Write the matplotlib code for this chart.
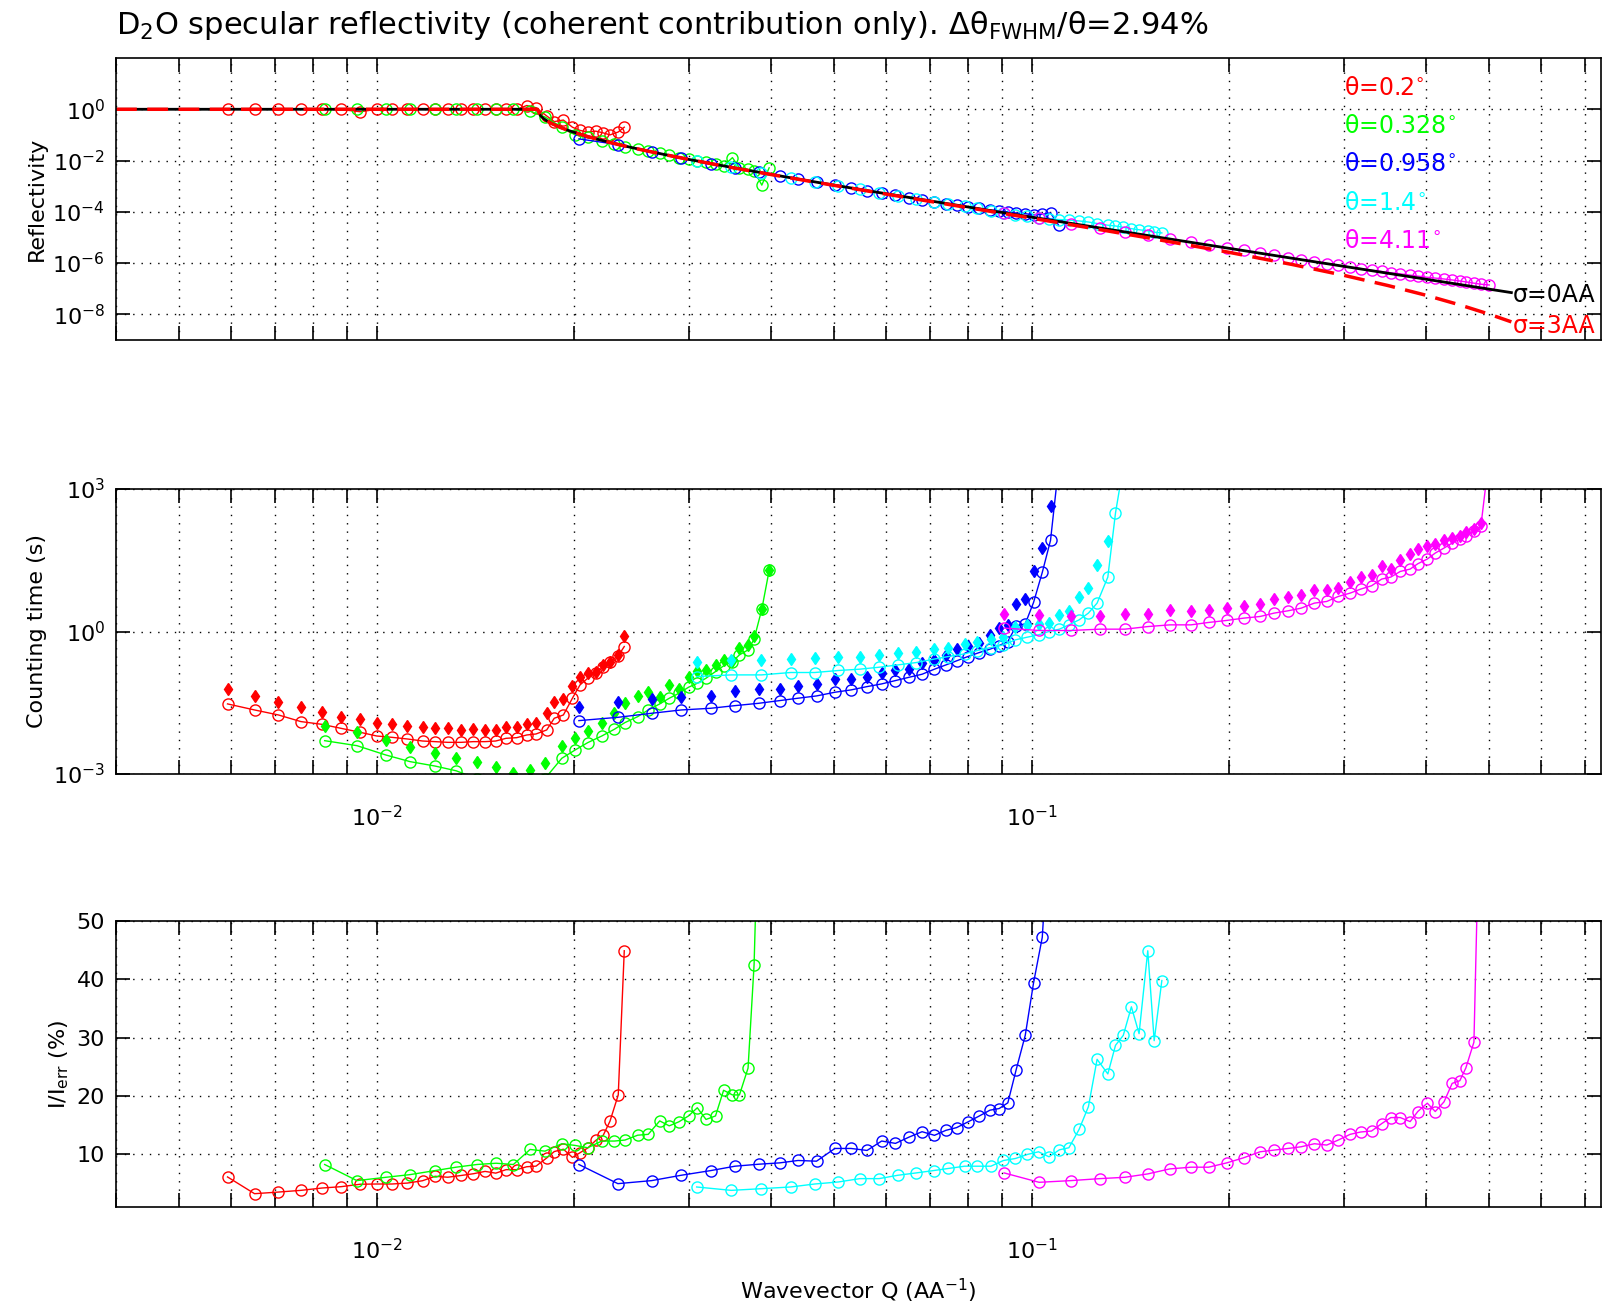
import matplotlib
matplotlib.use("Agg")
import matplotlib.pyplot as plt
from matplotlib.ticker import FixedLocator, NullLocator, NullFormatter, LogLocator

# ---- theory curves (sigma = 0 AA and sigma = 3 AA)
q_th = [0.004, 0.01, 0.0175, 0.0176, 0.0178, 0.018, 0.0182, 0.0185, 0.019, 0.0195,
        0.02, 0.021, 0.022, 0.023, 0.024, 0.025, 0.027, 0.03, 0.033, 0.036, 0.04,
        0.045, 0.05, 0.06, 0.07, 0.08, 0.09, 0.1, 0.12, 0.15, 0.2, 0.25, 0.3, 0.35,
        0.4, 0.45, 0.5, 0.54]
r0_th = [1.0, 1.0, 1.0, 1.0, 0.547, 0.427, 0.353, 0.28, 0.205, 0.158, 0.127, 0.0865,
         0.0625, 0.047, 0.0363, 0.0287, 0.0189, 0.011, 0.00697, 0.00465, 0.00289,
         0.00172, 0.00109, 5.06e-4, 2.67e-4, 1.54e-4, 9.5e-5, 6.19e-5, 2.96e-5, 1.2e-5,
         3.78e-6, 1.54e-6, 7.44e-7, 4.01e-7, 2.35e-7, 1.46e-7, 9.6e-8, 7.06e-8]
r3_th = [1.0, 1.0, 1.0, 1.0, 0.546, 0.426, 0.352, 0.279, 0.204, 0.158, 0.126, 0.0862,
         0.0622, 0.0468, 0.0361, 0.0286, 0.0188, 0.011, 0.0069, 0.0046, 0.00285,
         0.00169, 0.00107, 4.9e-4, 2.55e-4, 1.45e-4, 8.84e-5, 5.66e-5, 2.6e-5, 9.8e-6,
         2.64e-6, 8.8e-7, 3.31e-7, 1.33e-7, 5.57e-8, 2.36e-8, 1.01e-8, 5.1e-9]

# ---- theta = 0.2 deg (red)
q_red = [0.00592, 0.00651, 0.00708, 0.00766, 0.00825, 0.00882, 0.00944, 0.01000, 0.01055,
         0.01114, 0.01175, 0.01228, 0.01284, 0.01346, 0.01405, 0.01464, 0.01520, 0.01576,
         0.01636, 0.01695, 0.01751, 0.01818, 0.01867, 0.01928, 0.01990, 0.02044, 0.02100,
         0.02160, 0.02218, 0.02271, 0.02338, 0.02388]
r_red = [1.0, 1.0, 1.0, 1.0, 1.0, 0.98, 0.8, 1.0, 1.0, 1.0, 1.0, 1.0, 1.0, 1.0, 1.0, 1.0,
         1.0, 1.0, 1.0, 1.4, 1.15, 0.55, 0.33, 0.38, 0.2, 0.15, 0.13, 0.14, 0.12, 0.1,
         0.13, 0.2]
t_red = [0.0299, 0.0223, 0.0175, 0.0127, 0.0111, 0.00916, 0.00755, 0.00631, 0.00592,
         0.00546, 0.00495, 0.0048, 0.00464, 0.00464, 0.0048, 0.0048, 0.00495, 0.00564,
         0.00582, 0.00663, 0.00696, 0.00846, 0.0149, 0.0175, 0.0394, 0.0751, 0.1038,
         0.1367, 0.177, 0.233, 0.307, 0.483]
td_red = [0.0608, 0.0448, 0.0334, 0.0254, 0.0206, 0.0161, 0.0142, 0.0121, 0.0111, 0.01026,
          0.00961, 0.00916, 0.00916, 0.00846, 0.00887, 0.00846, 0.00846, 0.00961, 0.00961,
          0.0111, 0.0121, 0.019, 0.0334, 0.0374, 0.0716, 0.1125, 0.1367, 0.1435, 0.198,
          0.233, 0.322, 0.785]
e_red = [6.15, 3.28, 3.56, 3.85, 4.25, 4.48, 4.9, 4.94, 4.94, 5.1, 5.5, 6.26, 6.1, 6.4,
         6.7, 7.1, 6.8, 7.4, 7.4, 7.9, 8.0, 9.4, 10.5, 10.9, 9.5, 10.3, 11.1, 12.4, 13.3,
         15.7, 20.2, 44.9]

# ---- theta = 0.328 deg (green)
q_green = [0.00833, 0.00933, 0.01033, 0.01125, 0.01228, 0.01322, 0.01422, 0.01522, 0.01617,
           0.01715, 0.01807, 0.01917, 0.02009, 0.02100, 0.02206, 0.02306, 0.02394, 0.02503,
           0.02598, 0.02705, 0.02797, 0.02894, 0.02993, 0.03087, 0.03183, 0.03291, 0.03386,
           0.03493, 0.03580, 0.03690, 0.03769, 0.03873, 0.03974]
r_green = [1.0, 1.0, 1.0, 1.0, 1.0, 1.0, 1.0, 1.0, 1.0, 0.85, 0.5, 0.2, 0.1, 0.08, 0.06,
           0.046, 0.035, 0.029, 0.024, 0.019, 0.016, 0.013, 0.011, 0.0098, 0.0085, 0.0072,
           0.0062, 0.013, 0.0052, 0.0045, 0.004, 0.0011, 0.0052]
t_green = [0.00503, 0.00395, 0.00251, 0.00182, 0.00147, 0.00117, 0.0008, 0.0006, 0.0005,
           0.0005, 0.0008, 0.00214, 0.0032, 0.00457, 0.0063, 0.00873, 0.0121, 0.0161,
           0.0223, 0.0299, 0.0393, 0.0501, 0.067, 0.0814, 0.1038, 0.1435, 0.189, 0.233,
           0.322, 0.41, 0.689, 2.96, 19.3]
td_green = [0.01026, 0.00755, 0.0052, 0.00365, 0.00272, 0.00221, 0.00182, 0.00138, 0.00103,
            0.00121, 0.00168, 0.00395, 0.00564, 0.00818, 0.0121, 0.0196, 0.0308, 0.044,
            0.0543, 0.0413, 0.0751, 0.0608, 0.1125, 0.1507, 0.1556, 0.198, 0.253, 0.241,
            0.46, 0.524, 0.81, 2.96, 19.9]
e_green = [8.28, 5.52, 6.09, 6.55, 7.24, 7.82, 8.28, 8.5, 8.28, 10.86, 10.57, 11.84, 11.55,
           11.15, 12.3, 12.3, 12.47, 13.3, 13.45, 15.75, 14.9, 15.6, 16.6, 18.0, 16.0, 16.6,
           21.0, 20.2, 20.2, 24.8, 42.5, 90.0, 150.0]

# ---- theta = 0.958 deg (blue)
q_blue = [0.02036, 0.02335, 0.02629, 0.02918, 0.03237, 0.03524, 0.03830, 0.04124, 0.04399,
          0.04694, 0.05007, 0.05299, 0.05607, 0.05902, 0.06196, 0.06503, 0.06803, 0.07106,
          0.07399, 0.07680, 0.07991, 0.08321, 0.08637, 0.08921, 0.09197, 0.09471, 0.09777,
          0.10067, 0.10380, 0.10686, 0.10995]
r_blue = [0.07, 0.042, 0.022, 0.0125, 0.0076, 0.0051, 0.0035, 0.0025, 0.0019, 0.00143,
          0.00109, 0.00086, 0.00067, 0.00054, 0.00044, 0.00036, 0.0003, 0.00025, 0.00021,
          0.000182, 0.000155, 0.000135, 0.000118, 0.000105, 0.0001, 9.0e-5, 8.5e-5, 7.5e-5,
          8.0e-5, 9.0e-5, 3.0e-5]
t_blue = [0.0133, 0.0156, 0.019, 0.0223, 0.0242, 0.0275, 0.0308, 0.0351, 0.0394, 0.044,
          0.0526, 0.0589, 0.0692, 0.0788, 0.0927, 0.109, 0.126, 0.161, 0.198, 0.241, 0.297,
          0.361, 0.424, 0.507, 0.615, 1.316, 1.45, 4.09, 17.5, 82.9, 3000.0]
td_blue = [0.0254, 0.0334, 0.038, 0.0413, 0.044, 0.057, 0.0608, 0.0608, 0.072, 0.0788,
           0.0989, 0.0989, 0.1125, 0.1367, 0.1556, 0.1607, 0.215, 0.253, 0.322, 0.424, 0.499,
           0.568, 0.851, 1.2, 1.38, 3.83, 4.8, 18.4, 57.0, 432.0, 5000.0]
e_blue = [8.28, 5.0, 5.52, 6.44, 7.24, 7.99, 8.33, 8.56, 8.97, 8.85, 11.03, 11.03, 10.69,
          12.3, 11.9, 12.99, 13.9, 13.28, 14.14, 14.6, 15.57, 16.6, 17.59, 17.87, 18.85,
          24.54, 30.4, 39.4, 47.2, 70.0, 120.0]

# ---- theta = 1.4 deg (cyan)
q_cyan = [0.03080, 0.03478, 0.03868, 0.04285, 0.04664, 0.05070, 0.05465, 0.05848, 0.06250,
          0.06664, 0.07083, 0.07459, 0.07900, 0.08260, 0.08665, 0.09057, 0.09445, 0.09849,
          0.10245, 0.10629, 0.11025, 0.11399, 0.11816, 0.12209, 0.12587, 0.13071, 0.13428,
          0.13800, 0.14199, 0.14588, 0.15041, 0.15384, 0.15804]
r_cyan = [0.0097, 0.0054, 0.0034, 0.0021, 0.00147, 0.00103, 0.00075, 0.00056, 0.00043,
          0.00033, 0.00025, 0.000205, 0.000162, 0.000135, 0.000111, 9.3e-5, 7.8e-5, 6.6e-5,
          5.8e-5, 5.2e-5, 5.0e-5, 4.8e-5, 4.4e-5, 4.0e-5, 3.5e-5, 3.0e-5, 2.8e-5, 2.5e-5,
          2.2e-5, 2.0e-5, 1.8e-5, 1.6e-5, 1.5e-5]
t_cyan = [0.1125, 0.122, 0.122, 0.137, 0.137, 0.151, 0.161, 0.177, 0.198, 0.222, 0.261,
          0.297, 0.338, 0.398, 0.46, 0.524, 0.667, 0.76, 0.851, 1.0, 1.12, 1.38, 1.76, 2.44,
          3.96, 14.0, 313.0, 3000.0, 5000.0, 8000.0, 1e4, 1.5e4, 2e4]
td_cyan = [0.233, 0.253, 0.253, 0.265, 0.283, 0.297, 0.297, 0.322, 0.349, 0.367, 0.431,
           0.445, 0.541, 0.596, 0.689, 0.76, 1.27, 1.34, 1.45, 1.5, 2.2, 2.64, 5.3, 8.2,
           25.4, 79.0, 3000.0, 5000.0, 8000.0, 1e4, 1.5e4, 2e4, 3e4]
e_cyan = [4.43, 3.85, 4.14, 4.43, 4.94, 5.29, 5.86, 5.86, 6.44, 6.84, 7.24, 7.6, 7.99, 7.99,
          7.99, 8.97, 9.31, 10.0, 10.46, 9.6, 10.8, 11.15, 14.3, 18.2, 26.3, 23.8, 28.7,
          30.4, 35.3, 30.7, 44.9, 29.5, 39.8]

# ---- theta = 4.11 deg (magenta)
q_mag = [0.09077, 0.10266, 0.11474, 0.12706, 0.13879, 0.15041, 0.16255, 0.17507, 0.18621,
         0.19856, 0.21063, 0.22320, 0.23453, 0.24636, 0.25786, 0.27019, 0.28214, 0.29387,
         0.30637, 0.31787, 0.33033, 0.34233, 0.35346, 0.36546, 0.37830, 0.38864, 0.40179,
         0.41322, 0.42616, 0.43853, 0.45052, 0.46016, 0.47340, 0.48508, 0.49972]
r_mag = [9.2e-5, 5.6e-5, 3.5e-5, 2.35e-5, 1.65e-5, 1.2e-5, 8.7e-6, 6.4e-6, 5.0e-6, 3.9e-6,
         3.1e-6, 2.45e-6, 2.0e-6, 1.65e-6, 1.37e-6, 1.15e-6, 9.6e-7, 8.2e-7, 7.0e-7, 6.1e-7,
         5.3e-7, 4.7e-7, 4.2e-7, 3.8e-7, 3.4e-7, 3.1e-7, 2.8e-7, 2.6e-7, 2.4e-7, 2.2e-7,
         2.0e-7, 1.85e-7, 1.65e-7, 1.5e-7, 1.4e-7]
t_mag = [1.18, 1.05, 1.05, 1.12, 1.12, 1.27, 1.38, 1.38, 1.55, 1.71, 1.91, 2.07, 2.44, 2.73,
         3.1, 3.96, 4.29, 5.47, 6.43, 7.8, 9.18, 12.7, 14.0, 18.4, 20.6, 26.7, 33.5, 44.8,
         57.1, 72.8, 88.5, 104.0, 128.0, 164.0, 5000.0]
td_mag = [2.32, 2.25, 2.14, 2.17, 2.36, 2.36, 2.77, 2.64, 2.77, 3.1, 3.37, 3.83, 4.88, 5.3,
          5.74, 7.56, 7.56, 8.2, 10.8, 14.0, 15.7, 24.2, 20.6, 32.4, 43.4, 54.4, 62.0, 70.5,
          82.9, 95.0, 104.0, 122.0, 144.0, 192.0, 5000.0]
e_mag = [6.84, 5.23, 5.52, 5.86, 6.09, 6.67, 7.53, 7.82, 7.82, 8.56, 9.43, 10.46, 10.75,
         11.03, 11.32, 11.84, 11.61, 12.47, 13.45, 13.85, 14.02, 15.29, 16.32, 16.32, 15.63,
         17.36, 18.79, 17.36, 19.02, 22.18, 22.64, 24.83, 29.25, 80.0, 300.0]

angles = ["0.2", "0.328", "0.958", "1.4", "4.11"]
colors = ["#ff0000", "#00ff00", "#0000ff", "#00ffff", "#ff00ff"]
label_y = [6.6, 0.224, 7.4e-3, 2.3e-4, 7.1e-6]

series = [
    (q_red, r_red, t_red, td_red, e_red),
    (q_green, r_green, t_green, td_green, e_green),
    (q_blue, r_blue, t_blue, td_blue, e_blue),
    (q_cyan, r_cyan, t_cyan, td_cyan, e_cyan),
    (q_mag, r_mag, t_mag, td_mag, e_mag),
]

FS = 16
plt.rcParams['font.size'] = FS
plt.rcParams['mathtext.default'] = 'regular'

fig = plt.figure(figsize=(16.03, 13.09), dpi=100)
left, width = 116 / 1603, 1485 / 1603
ax1 = fig.add_axes([left, 1 - 340 / 1309, width, 282 / 1309])
ax2 = fig.add_axes([left, 1 - 774 / 1309, width, 285 / 1309])
ax3 = fig.add_axes([left, 1 - 1207 / 1309, width, 286 / 1309])

mk = dict(marker='o', markersize=8, markerfacecolor='none', markeredgewidth=1.0, linewidth=1.0)

for (q, r, t, td, e), c in zip(series, colors):
    ax1.plot(q, r, color=c, **mk)
    ax2.plot(q, t, color=c, **mk)
    ax2.plot(q, td, linestyle='none', marker='d', markersize=6, color=c)
    ax3.plot(q, e, color=c, **mk)

# theory
ax1.plot(q_th, r0_th, color='k', linewidth=2)
ax1.plot(q_th, r3_th, color='r', linewidth=2.5, dashes=(6, 3))
ax1.text(q_th[-1] * 1.005, r0_th[-1] * 0.8, 'σ=0AA', color='k', va='center', ha='left', fontsize=FS + 1)
ax1.text(q_th[-1] * 1.005, r3_th[-1] * 0.7, 'σ=3AA', color='r', va='center', ha='left', fontsize=FS + 1)

for a, c, y in zip(angles, colors, label_y):
    ax1.text(0.3, y, 'θ=' + a + r'$^{\circ}$', color=c, va='center', ha='left', fontsize=FS + 1)

grid_kw = dict(color='k', linestyle=(0, (1, 5)), linewidth=1.0)
for ax in (ax1, ax2, ax3):
    ax.set_xscale('log')
    ax.set_xlim(0.004, 0.74)
    ax.xaxis.set_major_locator(FixedLocator([0.01, 0.1]))
    ax.xaxis.set_minor_locator(LogLocator(base=10, subs=range(2, 10)))
    ax.xaxis.set_minor_formatter(NullFormatter())
    ax.tick_params(which='both', direction='in', top=True, right=True, length=10, width=1.2)
    ax.tick_params(axis='x', which='major', pad=22)
    ax.tick_params(axis='y', which='major', pad=8)
    ax.grid(True, which='major', **grid_kw)
    ax.grid(True, which='minor', axis='x', **grid_kw)
    for s in ax.spines.values():
        s.set_linewidth(1.2)

ax1.set_yscale('log')
ax1.set_ylim(1e-9, 1e2)
ax1.yaxis.set_major_locator(FixedLocator([1e-8, 1e-6, 1e-4, 1e-2, 1]))
ax1.yaxis.set_minor_locator(NullLocator())
ax1.set_xticklabels([])
ax1.set_ylabel('Reflectivity')

ax2.set_yscale('log')
ax2.set_ylim(1e-3, 1e3)
ax2.yaxis.set_major_locator(FixedLocator([1e-3, 1, 1e3]))
ax2.yaxis.set_minor_locator(NullLocator())
ax2.set_ylabel('Counting time (s)')

ax3.set_ylim(1, 50)
ax3.set_yticks([10, 20, 30, 40, 50])
ax3.set_ylabel(r'I/I$_{err}$ (%)')
ax3.set_xlabel(r'Wavevector Q (AA$^{-1}$)', labelpad=10)

fig.text(left, 1 - 34 / 1309,
         r'D$_2$O specular reflectivity (coherent contribution only). Δθ$_{FWHM}$/θ=2.94%',
         fontsize=22, ha='left', va='baseline')

fig.savefig('out.png', dpi=100)
